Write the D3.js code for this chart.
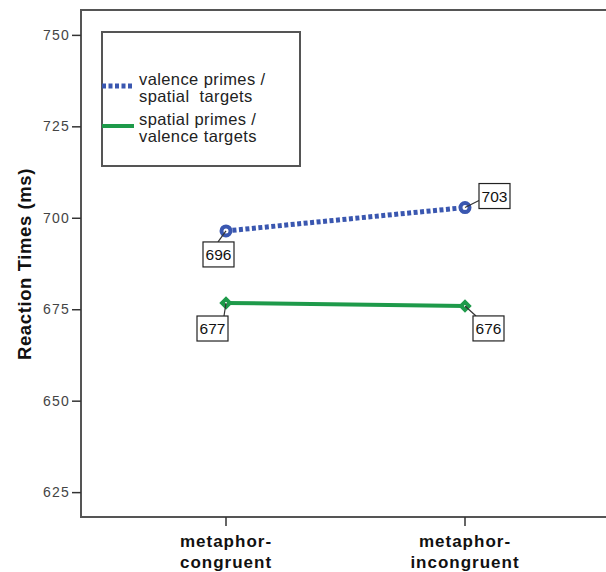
<!DOCTYPE html>
<html><head><meta charset="utf-8">
<script src="https://cdn.jsdelivr.net/npm/d3@7"></script>
<style>body{margin:0;background:#fff;} svg{display:block;font-family:"Liberation Sans",Arial,sans-serif;}</style>
</head><body>
<svg id="c" width="606" height="572"></svg>
<script>
const categories = ["metaphor-congruent", "metaphor-incongruent"];
const categoryLines = [["metaphor-", "congruent"], ["metaphor-", "incongruent"]];
const seriesNames = [["valence primes /", "spatial  targets"], ["spatial primes /", "valence targets"]];
const valenceSpatial = [696.4, 702.8];
const spatialValence = [676.7, 675.9];
const valenceLabels = ["696", "703"];
const spatialLabels = ["677", "676"];
const yTicks = [625, 650, 675, 700, 725, 750];

const svg = d3.select("#c");
const L = 81, T = 10, R = 605, B = 517;
const y = d3.scaleLinear().domain([618.2, 756.8]).range([B, T]);
const xs = d3.scalePoint().domain(categories).range([226, 465]);
const xi = i => xs(categories[i]);

const blue = "#3a57b0", green = "#1e9a4a";

svg.append("rect").attr("x", L).attr("y", T).attr("width", R - L + 3).attr("height", B - T)
  .attr("fill", "none").attr("stroke", "#555").attr("stroke-width", 2);

const ya = svg.append("g").attr("transform", `translate(${L},0)`)
  .call(d3.axisLeft(y).tickValues(yTicks).tickSize(9).tickPadding(2).tickFormat(d3.format("d")));
ya.select(".domain").remove();
ya.selectAll("line").attr("stroke", "#333").attr("stroke-width", 1.5);
ya.selectAll("text").attr("font-size", 14).attr("fill", "#444").attr("letter-spacing", 1.2)
  .attr("font-family", "Liberation Sans, Arial");

const xa = svg.append("g").attr("transform", `translate(0,${B})`);
categories.forEach((c, i) => {
  xa.append("line").attr("x1", xs(c)).attr("x2", xs(c)).attr("y1", 0).attr("y2", 9)
    .attr("stroke", "#333").attr("stroke-width", 1.5);
  const t = xa.append("text").attr("x", xs(c)).attr("text-anchor", "middle")
    .attr("font-size", 17).attr("font-weight", "bold").attr("fill", "#111").attr("letter-spacing", 1);
  categoryLines[i].forEach((s, j) => t.append("tspan").attr("x", xs(c)).attr("y", 30 + j * 21).text(s));
});

svg.append("text").attr("transform", `translate(31,264) rotate(-90)`).attr("text-anchor", "middle")
  .attr("font-size", 18.5).attr("font-weight", "bold").attr("fill", "#111").attr("letter-spacing", 0.6)
  .text("Reaction Times (ms)");

const line = d3.line().x((d, i) => xi(i)).y(d => y(d));

svg.append("path").datum(valenceSpatial).attr("d", line).attr("fill", "none")
  .attr("stroke", blue).attr("stroke-width", 5).attr("stroke-dasharray", "4,2.5");
svg.append("path").datum(spatialValence).attr("d", line).attr("fill", "none")
  .attr("stroke", green).attr("stroke-width", 4);

valenceSpatial.forEach((v, i) => {
  svg.append("circle").attr("cx", xi(i)).attr("cy", y(v)).attr("r", 4.5)
    .attr("fill", "#fff").attr("stroke", blue).attr("stroke-width", 4);
});
const square = d3.symbol().type(d3.symbolSquare).size(64);
spatialValence.forEach((v, i) => {
  svg.append("path").attr("d", square).attr("transform", `translate(${xi(i)},${y(v)}) rotate(45)`)
    .attr("fill", green).attr("stroke", green).attr("stroke-width", 1.5);
  svg.append("circle").attr("cx", xi(i)).attr("cy", y(v)).attr("r", 1).attr("fill", "#fff");
});

function labelBox(cx, cy, text, dx, dy, ax, ay) {
  const w = 31, h = 25;
  const bx = cx + dx, by = cy + dy;
  svg.append("line").attr("x1", cx).attr("y1", cy).attr("x2", bx + ax).attr("y2", by + ay)
    .attr("stroke", "#333").attr("stroke-width", 1.2);
  svg.append("rect").attr("x", bx).attr("y", by).attr("width", w).attr("height", h)
    .attr("fill", "#fff").attr("stroke", "#222").attr("stroke-width", 1.2);
  svg.append("text").attr("x", bx + w / 2).attr("y", by + h / 2 + 5.5).attr("text-anchor", "middle")
    .attr("font-size", 15.5).attr("fill", "#111").text(text);
}
labelBox(xi(0), y(valenceSpatial[0]), valenceLabels[0], -23, 11, 15, 0);
labelBox(xi(1), y(valenceSpatial[1]), valenceLabels[1], 14, -24, 0, 17);
labelBox(xi(0), y(spatialValence[0]), spatialLabels[0], -29, 13, 27, 0);
labelBox(xi(1), y(spatialValence[1]), spatialLabels[1], 8, 10, 3, 0);

const lg = svg.append("g");
lg.append("rect").attr("x", 102).attr("y", 32).attr("width", 198).attr("height", 134)
  .attr("fill", "#fff").attr("stroke", "#555").attr("stroke-width", 2);
lg.append("line").attr("x1", 102).attr("x2", 134).attr("y1", 86).attr("y2", 86)
  .attr("stroke", blue).attr("stroke-width", 5).attr("stroke-dasharray", "4,2.5");
lg.append("line").attr("x1", 102).attr("x2", 134).attr("y1", 126).attr("y2", 126)
  .attr("stroke", green).attr("stroke-width", 4);
seriesNames.forEach((lines, i) => {
  const t = lg.append("text").attr("font-size", 16.5).attr("fill", "#222").attr("letter-spacing", 0.4);
  lines.forEach((s, j) => t.append("tspan").attr("x", 139).attr("y", 85 + i * 40 + j * 17)
    .attr("xml:space", "preserve").text(s));
});
</script>
</body></html>
